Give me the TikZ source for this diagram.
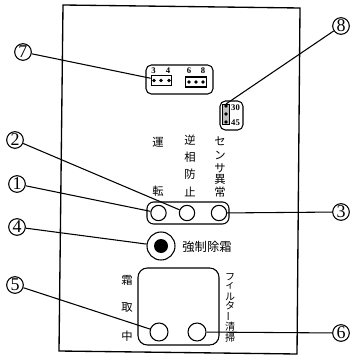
\documentclass[tikz,border=0pt]{standalone}
\usepackage{fontspec}
\setmainfont{Liberation Serif}
\newfontfamily\cjk{Noto Sans CJK JP}
\usetikzlibrary{calc}

\begin{document}
\begin{tikzpicture}[x=0.75pt,y=-0.75pt,line width=0.8pt,
    callout/.style={draw,circle,inner sep=0pt,minimum size=12.5pt,fill=white,font=\fontsize{13.5}{13.5}\selectfont},
    lamp/.style={draw,circle,inner sep=0pt,minimum size=#1},
    pin/.style={fill,circle,inner sep=0pt,minimum size=2.8pt},
    tag/.style={inner sep=0pt,font=\cjk\fontsize{8.5}{9}\selectfont},
    num/.style={inner sep=0pt,font=\bfseries\fontsize{6.5}{7}\selectfont}]
  \useasboundingbox (0,0) rectangle (351,356);

  % Panel
  \draw[line width=1pt] (63,5) -- (300,8) -- (297,354) -- (59,351) -- cycle;

  % Jumper block
  \draw[rounded corners=4pt] (146,65) rectangle (213,94);
  \node[draw,minimum width=15.5pt,minimum height=7.5pt,inner sep=0pt] (jumpa) at (161.5,80.5) {};
  \node[draw,minimum width=15.5pt,minimum height=7.5pt,inner sep=0pt] (jumpb) at (196,82) {};
  \foreach \x/\n in {154/a,161/b,169/c}
    \node[pin] (pa\n) at (\x,80.5) {};
  \foreach \x/\n in {189/a,196/b,203/c}
    \node[pin] (pb\n) at (\x,82) {};
  \foreach \x/\t in {153.5/3,168/4,189/6,203/8}
    \node[num] (lab\t) at (\x,70.5) {\t};

  % Time setting block
  \draw[rounded corners=4pt] (220,101) rectangle (243,130);
  \node[draw,fill=black!25,minimum width=5pt,minimum height=15pt,inner sep=0pt] (slot) at (226,114.5) {};
  \foreach \y/\n in {106/a,114/b,122/c}
    \node[pin] (ps\n) at (226,\y) {};
  \node[num] (lab30) at (235.5,108) {30};
  \node[num] (lab45) at (235.5,123) {45};

  % Lamps
  \draw[rounded corners=5pt] (147,202) rectangle (229,224);
  \node[lamp=11.5pt] (leda) at (158.5,213) {};
  \node[lamp=11.5pt] (ledb) at (187,213) {};
  \node[lamp=11.5pt] (ledc) at (219,213) {};

  % Push button
  \node[lamp=21pt] (btn) at (161,246) {};
  \node[fill,circle,inner sep=0pt,minimum size=10.5pt] (btnin) at (161,246) {};
  \node[tag,font=\cjk\fontsize{9.2}{10}\selectfont] (force) at (207,247) {強制除霜};

  % Lower box
  \draw[rounded corners=7pt] (138,268) rectangle (219,345);
  \node[lamp=13.5pt] (ledd) at (159,332) {};
  \node[lamp=13.5pt] (lede) at (197,332) {};

  % Vertical labels
  \foreach \y/\t/\n in {142/運/a,191/転/b}
    \node[tag] (run\n) at (158,\y) {\t};
  \foreach \y/\t/\n in {140/逆/a,157/相/b,174/防/c,192/止/d}
    \node[tag] (rev\n) at (190,\y) {\t};
  \foreach \y/\t/\n in {141/セ/a,155/ン/b,168/サ/c,179/異/d,192/常/e}
    \node[tag] (sen\n) at (220,\y) {\t};
  \foreach \y/\t/\n in {280/霜/a,308/取/b,336/中/c}
    \node[tag] (def\n) at (127,\y) {\t};
  \foreach \y/\t/\n in {277/フ/a,286/ィ/b,297/ル/c,306/タ/d,327/清/f,338/掃/g}
    \node[tag,font=\cjk\fontsize{7.5}{8}\selectfont] (fil\n) at (230,\y) {\t};
  \node[tag,rotate=90,xscale=-1,font=\cjk\fontsize{7.5}{8}\selectfont] (file) at (230,316) {ー};

  % Callouts
  \node[callout] (c1) at (17,184) {1};
  \node[callout] (c2) at (15,140) {2};
  \node[callout] (c3) at (341,212) {3};
  \node[callout] (c4) at (17,227) {4};
  \node[callout] (c5) at (15,285) {5};
  \node[callout] (c6) at (341,333) {6};
  \node[callout] (c7) at (23,52) {7};
  \node[callout] (c8) at (341,26) {8};

  % Leaders
  \draw (c1) -- (leda);
  \draw (c2) -- (ledb);
  \draw (c3) -- (ledc);
  \draw (c4) -- (btn);
  \draw (c5) -- (ledd);
  \draw (c6) -- (lede);
  \draw (c7) -- (jumpa);
  \draw (c8) -- (slot.north);
\end{tikzpicture}
\end{document}
